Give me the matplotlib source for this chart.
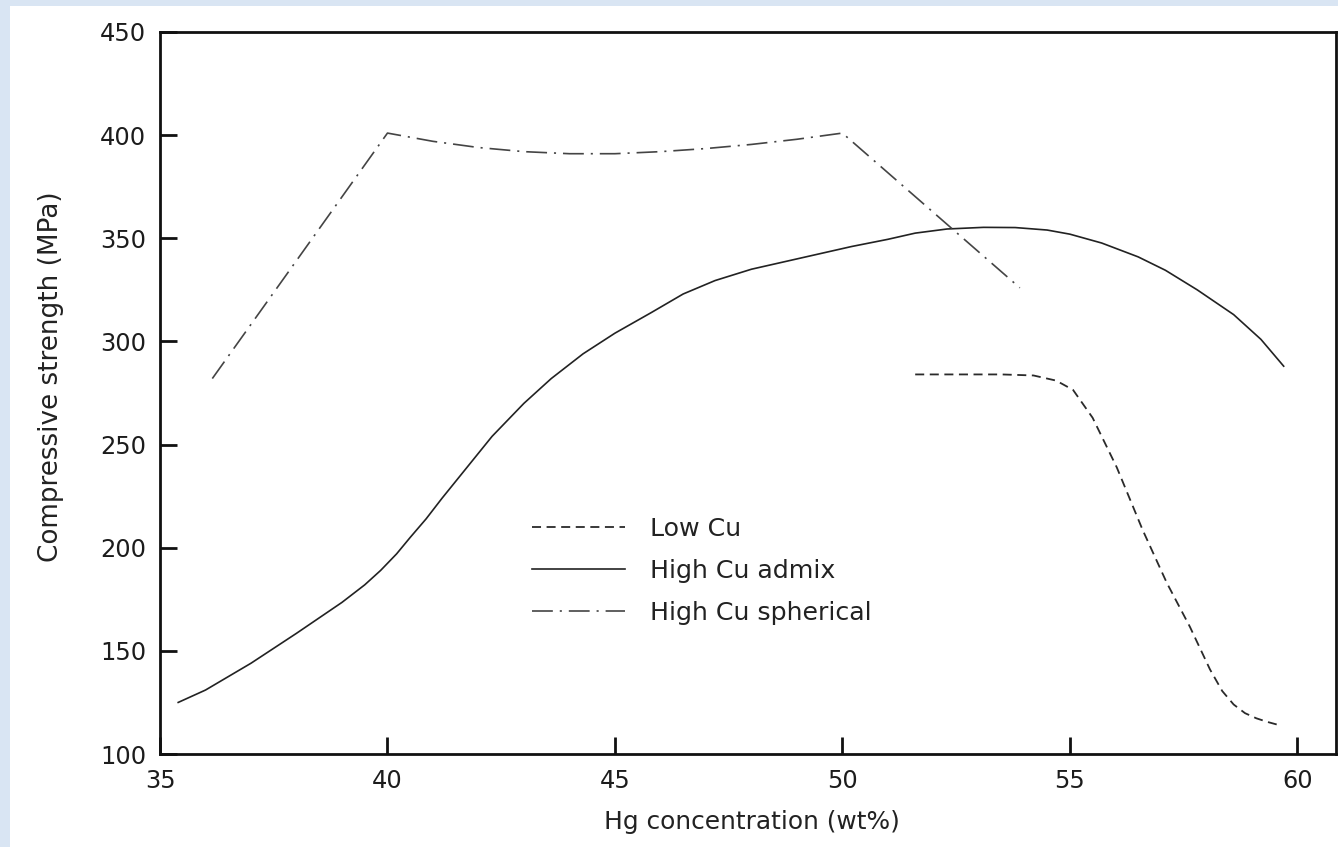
import matplotlib
matplotlib.use("Agg")
import matplotlib.pyplot as plt
from matplotlib.patches import Rectangle

# ---- data ----
low_cu_x = [51.6, 52.5, 53.5, 54.2, 54.7, 55.07, 55.5, 56.03, 56.6, 57.13, 57.64, 58.08, 58.35, 58.6, 58.85, 59.1, 59.35, 59.6]
low_cu_y = [284, 284, 284, 283.5, 281, 276.5, 263, 239, 208.6, 183, 161.6, 141, 130.5, 124, 119.8, 117.3, 115.5, 114]

admix_x = [35.4, 36.0, 37.0, 38.0, 39.0, 39.5, 39.85, 40.2, 40.5, 40.85, 41.2, 41.75, 42.3, 43.0, 43.6, 44.3, 45.0, 45.8, 46.5,
           47.2, 48.0, 49.0, 50.2, 51.0, 51.6, 52.3, 53.1, 53.8, 54.5, 55.0, 55.7, 56.5, 57.1, 57.8, 58.6, 59.2, 59.7]
admix_y = [125, 131, 144, 158.5, 173.5, 182, 189, 197, 205, 214, 224, 239, 254, 270, 282, 294, 304, 314, 323,
           329.5, 335, 340, 346, 349.5, 352.5, 354.5, 355.3, 355.2, 354, 352, 347.7, 341, 334.5, 325, 313, 301, 288]

spher_x = [36.15, 40.0, 41.0, 42.0, 43.0, 44.0, 45.0, 46.0, 47.0, 48.0, 49.0, 50.0, 53.9]
spher_y = [282, 401, 397, 394, 392, 391, 391, 392, 393.5, 395.5, 398, 401, 326]

labels = ["Low Cu", "High Cu admix", "High Cu spherical"]
x_ticks = [35, 40, 45, 50, 55, 60]
y_ticks = [100, 150, 200, 250, 300, 350, 400, 450]

plt.rcParams['font.family'] = ['DejaVu Sans']
plt.rcParams['lines.scale_dashes'] = False

W, H = 1338, 847
fig = plt.figure(figsize=(W / 100, H / 100), dpi=100, facecolor='#d9e5f3')
# white page area
fig.patches.append(Rectangle((10 / W, 0), 1 - 10 / W, 1 - 6 / H, transform=fig.transFigure,
                             facecolor='white', edgecolor='none', zorder=-10))

ax = fig.add_axes([160 / W, 1 - 754 / H, (1336 - 160) / W, (754 - 32) / H])
ax.set_zorder(5)
ax.set_facecolor('white')

ax.plot(low_cu_x, low_cu_y, color='#2a2a2a', lw=1.3, linestyle=(0, (6.5, 4.0)), label=labels[0],
        solid_joinstyle='round', dash_joinstyle='round')
ax.plot(admix_x, admix_y, color='#222222', lw=1.2, linestyle='-', label=labels[1],
        solid_joinstyle='round')
ax.plot(spher_x, spher_y, color='#444444', lw=1.2, linestyle=(0, (15, 5, 1.5, 5)), label=labels[2])

ax.set_xlim(35, 60.85)
ax.set_ylim(100, 450)
ax.set_xticks(x_ticks)
ax.set_yticks(y_ticks)
ax.tick_params(axis='both', direction='in', length=12, width=2, colors='#111111',
               labelsize=17.4, labelcolor='#1c1c1c')
ax.tick_params(axis='y', pad=10)
ax.tick_params(axis='x', pad=11)
for s in ax.spines.values():
    s.set_linewidth(2)
    s.set_color('#111111')

ax.set_xlabel("Hg concentration (wt%)", fontsize=17.9, color='#222222')
ax.xaxis.set_label_coords(0.503, -0.078)
ax.set_ylabel("Compressive strength (MPa)", fontsize=18.9, color='#222222')
ax.yaxis.set_label_coords(-0.0816, 0.522)

leg = ax.legend(loc='upper left', bbox_to_anchor=(0.3163, 0.328), frameon=False, fontsize=18.2,
                handlelength=3.7, handletextpad=0.95, labelspacing=0.7, borderpad=0, borderaxespad=0)
for t in leg.get_texts():
    t.set_color('#222222')

fig.savefig("out.png", dpi=100, facecolor=fig.get_facecolor())
